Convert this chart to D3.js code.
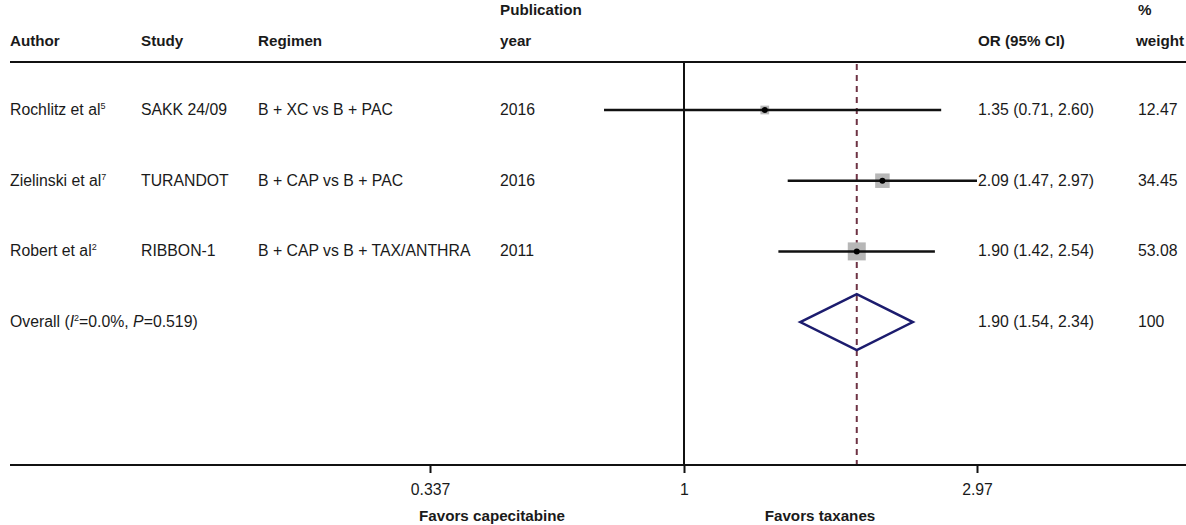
<!DOCTYPE html>
<html>
<head>
<meta charset="utf-8">
<script src="https://cdn.jsdelivr.net/npm/d3@7"></script>
<style>
  body { margin: 0; background: #fff; }
  svg text { font-family: "Liberation Sans", Arial, sans-serif; fill: #1a1a1a; }
  .hdr { font-weight: bold; }
</style>
</head>
<body>
<svg id="svg" width="1186" height="525"></svg>
<script>
// Study rows
const authors = ["Rochlitz et al", "Zielinski et al", "Robert et al"];
const refs = ["5", "7", "2"];
const studies = ["SAKK 24/09", "TURANDOT", "RIBBON-1"];
const regimens = ["B + XC vs B + PAC", "B + CAP vs B + PAC", "B + CAP vs B + TAX/ANTHRA"];
const years = ["2016", "2016", "2011"];
const or = [1.35, 2.09, 1.90];
const lower = [0.71, 1.47, 1.42];
const upper = [2.60, 2.97, 2.54];
const weights = [12.47, 34.45, 53.08];

// Pooled estimate
const overall = { or: 1.90, lower: 1.54, upper: 2.34, weight: "100" };

const tickValues = [0.337, 1, 2.97];
const tickLabels = ["0.337", "1", "2.97"];

const attr = {
  width: 1186,
  height: 525,
  rowTop: 110,
  rowStep: 70.7,
  headLine: 62,
  axisY: 465,
  font: "15.8px",
  headFont: "15.2px"
};

const svg = d3.select("svg#svg");

const x = d3.scaleLog()
  .domain([0.337, 1, 2.97])
  .range([430, 684, 977]);

const y = d3.scaleLinear()
  .domain([0, 1])
  .range([attr.rowTop, attr.rowTop + attr.rowStep]);

const fmt = d3.format(".2f");

// columns
const col = { author: 10, study: 141, regimen: 258, year: 500, ci: 978, weight: 1138 };

// Header
const head = svg.append("g").attr("class", "hdr").style("font-size", attr.headFont);
head.append("text").attr("x", col.author).attr("y", 46).text("Author");
head.append("text").attr("x", col.study).attr("y", 46).text("Study");
head.append("text").attr("x", col.regimen).attr("y", 46).text("Regimen");
head.append("text").attr("x", col.year).attr("y", 15).text("Publication");
head.append("text").attr("x", col.year).attr("y", 46).text("year");
head.append("text").attr("x", col.ci).attr("y", 46).text("OR (95% CI)");
head.append("text").attr("x", col.weight).attr("y", 15).text("%");
head.append("text").attr("x", col.weight - 2).attr("y", 46).text("weight");

svg.append("line")
  .attr("x1", 10).attr("x2", attr.width)
  .attr("y1", attr.headLine).attr("y2", attr.headLine)
  .attr("stroke", "#111").attr("stroke-width", 2);

// reference lines
svg.append("line")
  .attr("x1", x(1)).attr("x2", x(1))
  .attr("y1", attr.headLine).attr("y2", attr.axisY)
  .attr("stroke", "#111").attr("stroke-width", 2);

svg.append("line")
  .attr("x1", x(overall.or)).attr("x2", x(overall.or))
  .attr("y1", attr.headLine + 2).attr("y2", attr.axisY)
  .attr("stroke", "#6e3344").attr("stroke-width", 2)
  .attr("stroke-dasharray", "6,5");

// study rows
const rows = svg.append("g").style("font-size", attr.font);
authors.forEach(function(a, i) {
  let t = rows.append("text").attr("x", col.author).attr("y", y(i) + 5);
  t.append("tspan").text(a);
  t.append("tspan").attr("dy", -6).style("font-size", "9px").text(refs[i]);
  rows.append("text").attr("x", col.study).attr("y", y(i) + 5).text(studies[i]);
  rows.append("text").attr("x", col.regimen).attr("y", y(i) + 5).text(regimens[i]);
  rows.append("text").attr("x", col.year).attr("y", y(i) + 5).text(years[i]);
  rows.append("text").attr("x", col.ci).attr("y", y(i) + 5)
    .text(fmt(or[i]) + " (" + fmt(lower[i]) + ", " + fmt(upper[i]) + ")");
  rows.append("text").attr("x", col.weight).attr("y", y(i) + 5).text(fmt(weights[i]));
});

// weight boxes: area proportional to weight
const side = d3.scaleSqrt().domain([0, d3.max(weights)]).range([0, 18]);

const marks = svg.append("g");
marks.selectAll("rect.box")
  .data(weights)
  .enter()
  .append("rect")
  .attr("class", "box")
  .attr("x", (d, i) => x(or[i]) - side(d) / 2)
  .attr("y", (d, i) => y(i) - side(d) / 2)
  .attr("width", d => side(d))
  .attr("height", d => side(d))
  .attr("fill", "#b7b7b7");

marks.selectAll("line.ci")
  .data(or)
  .enter()
  .append("line")
  .attr("class", "ci")
  .attr("x1", (d, i) => x(lower[i]))
  .attr("x2", (d, i) => x(upper[i]))
  .attr("y1", (d, i) => y(i))
  .attr("y2", (d, i) => y(i))
  .attr("stroke", "#111")
  .attr("stroke-width", 2.5);

marks.selectAll("path.pt")
  .data(or)
  .enter()
  .append("path")
  .attr("class", "pt")
  .attr("transform", (d, i) => "translate(" + x(d) + "," + y(i) + ")")
  .attr("d", d3.symbol(d3.symbolCircle, 28))
  .attr("fill", "#000");

// overall diamond
const oy = y(3);
svg.append("path")
  .attr("d", "M" + x(overall.lower) + "," + oy +
    "L" + x(overall.or) + "," + (oy - 28) +
    "L" + x(overall.upper) + "," + oy +
    "L" + x(overall.or) + "," + (oy + 28) + "Z")
  .attr("fill", "none")
  .attr("stroke", "#1c1c6e")
  .attr("stroke-width", 2.5);

let ot = rows.append("text").attr("x", col.author).attr("y", oy + 5);
ot.append("tspan").text("Overall (");
ot.append("tspan").style("font-style", "italic").text("I");
ot.append("tspan").attr("dy", -6).style("font-size", "9px").text("2");
ot.append("tspan").attr("dy", 6).text("=0.0%, ");
ot.append("tspan").style("font-style", "italic").text("P");
ot.append("tspan").text("=0.519)");
rows.append("text").attr("x", col.ci).attr("y", oy + 5)
  .text(fmt(overall.or) + " (" + fmt(overall.lower) + ", " + fmt(overall.upper) + ")");
rows.append("text").attr("x", col.weight).attr("y", oy + 5).text(overall.weight);

// x axis
svg.append("line")
  .attr("x1", 10).attr("x2", attr.width)
  .attr("y1", attr.axisY).attr("y2", attr.axisY)
  .attr("stroke", "#111").attr("stroke-width", 2);

const axis = d3.axisBottom(x)
  .tickValues(tickValues)
  .tickFormat((d, i) => tickLabels[i])
  .tickSize(8)
  .tickPadding(11);

const gx = svg.append("g")
  .attr("transform", "translate(0," + attr.axisY + ")")
  .call(axis);
gx.select(".domain").remove();
gx.selectAll(".tick line").attr("stroke", "#111").attr("stroke-width", 2);
gx.selectAll(".tick text")
  .style("font-size", attr.font)
  .style("font-family", "'Liberation Sans', Arial, sans-serif")
  .attr("fill", "#1a1a1a");

svg.append("text").attr("class", "hdr").style("font-size", attr.headFont)
  .attr("x", 492).attr("y", 521).attr("text-anchor", "middle")
  .text("Favors capecitabine");
svg.append("text").attr("class", "hdr").style("font-size", attr.headFont)
  .attr("x", 820).attr("y", 521).attr("text-anchor", "middle")
  .text("Favors taxanes");
</script>
</body>
</html>
